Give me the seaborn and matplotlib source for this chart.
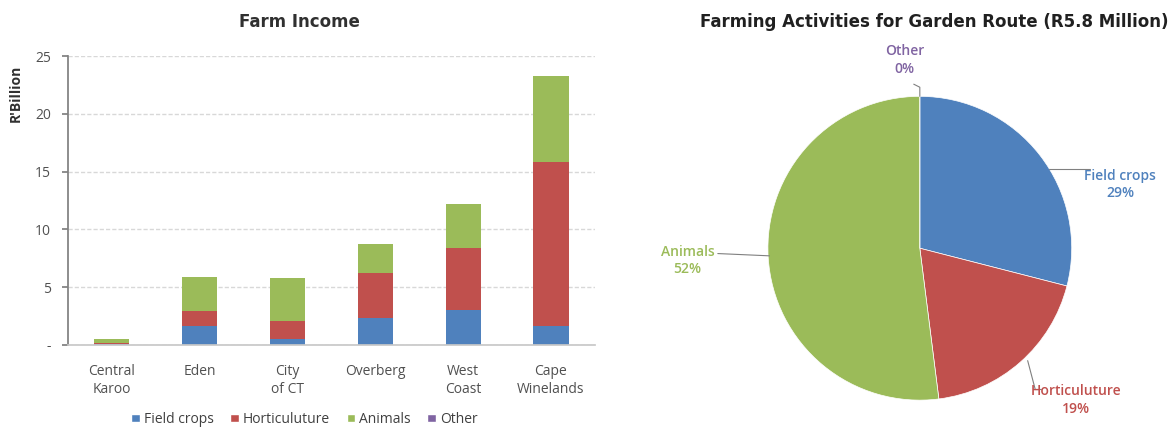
import matplotlib
matplotlib.use("Agg")
import matplotlib.pyplot as plt
import seaborn as sns
import numpy as np
import pandas as pd
from matplotlib.patches import Patch

regions = ["Central\nKaroo", "Eden", "City\nof CT", "Overberg", "West\nCoast", "Cape\nWinelands"]
series_names = ["Field crops", "Horticuluture", "Animals", "Other"]
field_crops = [0.05, 1.6, 0.5, 2.3, 3.0, 1.65]
horticulture = [0.1, 1.3, 1.6, 3.95, 5.35, 14.15]
animals = [0.35, 3.0, 3.7, 2.45, 3.85, 7.5]
other = [0.0, 0.0, 0.0, 0.0, 0.0, 0.0]

pie_labels = ["Field crops", "Horticuluture", "Animals", "Other"]
pie_values = [29, 19, 52, 0]
pie_pct = ["29%", "19%", "52%", "0%"]

colors = ["#4F81BD", "#C0504D", "#9BBB59", "#8064A2"]

sns.set_theme(style="white")
plt.rcParams["font.family"] = ["Open Sans", "DejaVu Sans"]

fig = plt.figure(figsize=(11.71, 4.28), dpi=100)

# ---------- stacked bar ----------
ax = fig.add_axes([0.058, 0.194, 0.45, 0.675])
df = pd.DataFrame({"region": regions, "Field crops": field_crops,
                   "Horticuluture": horticulture, "Animals": animals, "Other": other})
cum = df[series_names].cumsum(axis=1)
for name, col in reversed(list(zip(series_names, colors))):
    sns.barplot(x=df["region"], y=cum[name], color=col, width=0.4, ax=ax,
                saturation=1, linewidth=0)
ax.set_ylim(0, 25)
ax.set_xlim(-0.5, 5.5)
ax.set_yticks([0, 5, 10, 15, 20, 25])
ax.set_yticklabels(["-", "5", "10", "15", "20", "25"])
ax.yaxis.grid(True, color="#D8D8D8", linewidth=1, linestyle=(0, (3, 1.5)))
ax.set_axisbelow(True)
for s in ["top", "right"]:
    ax.spines[s].set_visible(False)
ax.spines["left"].set_color("#808080")
ax.spines["bottom"].set_color("#C8C8C8")
ax.tick_params(axis="y", length=4, color="#808080", direction="out", left=True,
               labelsize=10, labelcolor="#505050", pad=8)
ax.tick_params(axis="x", length=0, labelsize=10, labelcolor="#505050", pad=14)
ax.set_xlabel("")
ax.set_ylabel("R'Billion", fontsize=10, fontweight="bold", color="#303030", labelpad=14)
ax.yaxis.set_label_coords(-0.085, 0.87)
fig.text(0.256, 0.948, "Farm Income", ha="center", va="center", fontsize=12,
         fontweight="bold", color="#303030", family=["DejaVu Sans"])
handles = [Patch(facecolor=c, label=n) for n, c in zip(series_names, colors)]
fig.legend(handles=handles, loc="center", bbox_to_anchor=(0.26, 0.02), ncol=4,
           frameon=False, fontsize=10, handlelength=0.6, handleheight=0.6,
           handletextpad=0.3, columnspacing=1.2, labelcolor="#404040")

# ---------- pie ----------
pax = fig.add_axes([0.653, 0.058, 0.265, 0.724])
wedges, _ = pax.pie(pie_values, colors=colors, startangle=90, counterclock=False,
                    wedgeprops=dict(edgecolor="white", linewidth=0.5))
pax.set_aspect("equal")
pax.set_xlim(-1.02, 1.02)
pax.set_ylim(-1.02, 1.02)

label_pos = [(1.32, 0.42), (1.03, -1.0), (-1.53, -0.08), (-0.1, 1.24)]
line_pts = [
    [(0.85, 0.52), (1.12, 0.52)],
    [(0.71, -0.74), (0.76, -0.93), (0.80, -0.93)],
    [(-0.99, -0.05), (-1.33, -0.035)],
    [(0.0, 1.0), (0.0, 1.06), (-0.04, 1.08)],
]
for (lx, ly), lab, pct, col, pts in zip(label_pos, pie_labels, pie_pct, colors, line_pts):
    pax.text(lx, ly, f"{lab}\n{pct}", ha="center", va="center", color=col,
             fontsize=10, fontweight="semibold", linespacing=1.3, clip_on=False)
    xs, ys = zip(*pts)
    pax.plot(xs, ys, color="#808080", linewidth=0.8, clip_on=False)

fig.text(0.798, 0.948, "Farming Activities for Garden Route (R5.8 Million)",
         ha="center", va="center", fontsize=12, fontweight="bold", color="#202020",
         family=["DejaVu Sans"])

fig.savefig("out.png", dpi=100)
